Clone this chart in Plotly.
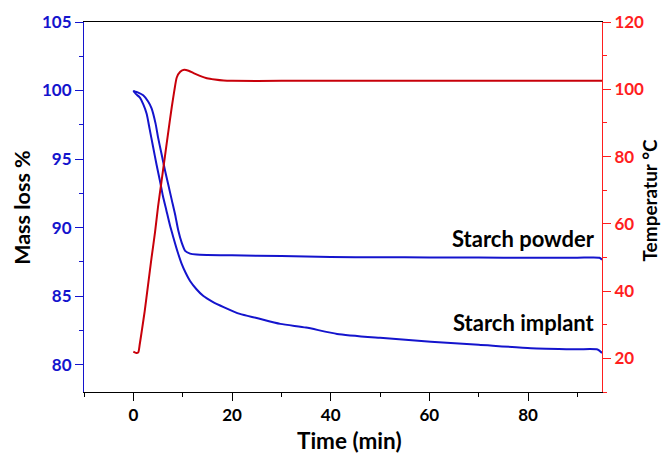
import plotly.graph_objects as go

# time (min) and mass (%)
t_powder = [0, 1, 2, 3, 3.7, 4.5, 5, 5.7, 6.4, 7.1, 7.8, 8.5, 9.1, 9.8, 10.5, 11.5,
            12.8, 15, 20, 30, 40, 50, 60, 70, 80, 90, 94.5, 95]
m_powder = [99.95, 99.85, 99.65, 99.2, 98.7, 97.6, 96.6, 95.4, 94.2, 93.1, 92.0, 90.9,
            89.8, 88.9, 88.3, 88.1, 88.03, 88.0, 87.97, 87.92, 87.85, 87.83, 87.82,
            87.81, 87.8, 87.8, 87.8, 87.65]

t_implant = [0, 0.5, 1.3, 2, 2.7, 3.3, 4.0, 4.7, 5.4, 6.0, 6.7, 7.4, 8.1, 9.0, 9.8,
             10.6, 11.5, 12.8, 14.2, 16, 18.3, 21.6, 25, 29.8, 35, 41.3, 50, 60.3,
             70, 80.6, 90, 94.1, 95]
m_implant = [100, 99.75, 99.5, 99.0, 98.3, 97.2, 95.9, 94.6, 93.4, 92.3, 91.25, 90.2,
             89.3, 88.2, 87.35, 86.7, 86.1, 85.5, 85.0, 84.6, 84.2, 83.7, 83.4, 82.97,
             82.7, 82.24, 81.95, 81.67, 81.45, 81.2, 81.12, 81.1, 80.85]

t_temp = [0, 0.6, 1.0, 1.3, 1.8, 2.3, 3.0, 3.7, 4.4, 5.0, 5.7, 6.4, 7.1, 7.8, 8.3,
          8.8, 9.5, 10.3, 11.2, 12.2, 13.5, 14.9, 16.5, 18.3, 20, 30, 40, 50, 60,
          70, 80, 90, 95]
temp = [22, 21.6, 21.8, 24.2, 29, 34, 42, 50, 57.5, 65, 72.5, 80, 87.5, 94.8, 99.5,
        103.5, 105.2, 105.8, 105.5, 104.8, 104, 103.3, 102.9, 102.6, 102.5, 102.5,
        102.5, 102.5, 102.5, 102.5, 102.5, 102.5, 102.5]

BLUE = 'rgb(20, 20, 205)'
RED_LINE = 'rgb(200, 0, 10)'
RED_AX = 'rgb(255, 30, 30)'
FONT = 'Lato'


def bold(size, color='black'):
    return dict(family=FONT, size=size, color=color, weight='bold')


fig = go.Figure()
fig.add_trace(go.Scatter(x=t_powder, y=m_powder, mode='lines', name='Starch powder',
                         line=dict(color=BLUE, width=2, shape='spline', smoothing=0.6)))
fig.add_trace(go.Scatter(x=t_implant, y=m_implant, mode='lines', name='Starch implant',
                         line=dict(color=BLUE, width=2, shape='spline', smoothing=0.6)))
fig.add_trace(go.Scatter(x=t_temp, y=temp, mode='lines', name='Temperatur', yaxis='y2',
                         line=dict(color=RED_LINE, width=2, shape='spline', smoothing=0.6)))

fig.add_annotation(x=94, y=89.2, text='Starch powder', showarrow=False, xanchor='right',
                   font=bold(22))
fig.add_annotation(x=94, y=83.1, text='Starch implant', showarrow=False, xanchor='right',
                   font=bold(22))

# axis titles placed by hand so the margins stay fixed
fig.add_annotation(xref='paper', yref='paper', x=0.5126, y=-0.13, text='Time (min)',
                   showarrow=False, xanchor='center', yanchor='middle', font=bold(22.5))
fig.add_annotation(xref='paper', yref='paper', x=-0.12, y=0.5, text='Mass loss %',
                   showarrow=False, textangle=-90, xanchor='center', yanchor='middle',
                   font=bold(21.5))
fig.add_annotation(xref='paper', yref='paper', x=1.0925, y=0.52, text='Temperatur °C',
                   showarrow=False, textangle=-90, xanchor='center', yanchor='middle',
                   font=bold(19))

fig.update_layout(
    width=661, height=455,
    margin=dict(l=84, r=59, t=22, b=63, autoexpand=False),
    plot_bgcolor='white', paper_bgcolor='white',
    showlegend=False,
    font=dict(family=FONT),
    xaxis=dict(range=[-10, 95], dtick=20, tick0=0, ticks='outside', ticklen=8,
               tickcolor='black', showline=True, linecolor='black', linewidth=1,
               mirror=True, showgrid=False, zeroline=False, automargin=False,
               minor=dict(dtick=10, ticks='outside', ticklen=4, tickcolor='black'),
               tickfont=bold(17)),
    yaxis=dict(range=[78, 105], dtick=5, tick0=80, ticks='outside', ticklen=8,
               tickcolor=BLUE, showline=True, linecolor=BLUE, linewidth=1,
               showgrid=False, zeroline=False, automargin=False,
               minor=dict(dtick=2.5, ticks='outside', ticklen=4, tickcolor=BLUE),
               tickfont=bold(17, BLUE)),
    yaxis2=dict(range=[10, 120], dtick=20, tick0=20, overlaying='y', side='right',
                ticks='outside', ticklen=8, tickcolor=RED_AX, showline=True,
                linecolor=RED_AX, linewidth=1, showgrid=False, zeroline=False,
                automargin=False,
                minor=dict(dtick=10, ticks='outside', ticklen=4, tickcolor=RED_AX),
                tickfont=bold(17, RED_AX)),
)

# the page's default body margin would push the figure 8px off
fig.write_html("out.html", config={'displayModeBar': False},
               post_script="document.body.style.margin='0';")
